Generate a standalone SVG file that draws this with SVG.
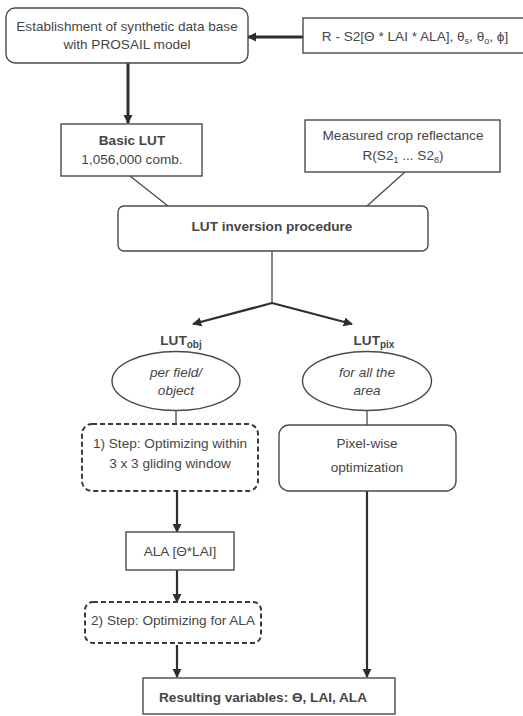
<svg xmlns="http://www.w3.org/2000/svg" width="523" height="716" viewBox="0 0 523 716">
<defs>
<marker id="ah" viewBox="0 0 10 10" refX="9" refY="5" markerWidth="4.2" markerHeight="4.2" markerUnits="strokeWidth" orient="auto">
<path d="M0,0 L10,5 L0,10 z" fill="#2e2e2e"/>
</marker>
<marker id="ahk" viewBox="0 0 10 10" refX="9" refY="5" markerWidth="3.1" markerHeight="3.1" markerUnits="strokeWidth" orient="auto">
<path d="M0,0 L10,5 L0,10 z" fill="#2e2e2e"/>
</marker>
<style>
.box{fill:#fff;stroke:#4a4a4a;stroke-width:1.4}
.dash{fill:#fff;stroke:#3a3a3a;stroke-width:2;stroke-dasharray:5 3}
.t{font-family:"Liberation Sans",Arial,sans-serif;font-size:13.6px;fill:#464646;text-anchor:middle}
.b{font-weight:bold}
.i{font-style:italic}
.thin{fill:none;stroke:#4a4a4a;stroke-width:1.3}
.arr{fill:none;stroke:#2e2e2e;stroke-width:2.2;marker-end:url(#ah)}
.arrk{fill:none;stroke:#2e2e2e;stroke-width:3;marker-end:url(#ahk)}
</style>
</defs>
<rect width="523" height="716" fill="#fff"/>
<g id="connectors">
<line class="arrk" x1="303" y1="37" x2="248" y2="37"/>
<line class="arrk" x1="128" y1="63" x2="128" y2="123"/>
<line class="thin" x1="130" y1="176" x2="168" y2="206"/>
<line class="thin" x1="405" y1="172" x2="367" y2="206"/>
<line class="thin" x1="272" y1="251" x2="272" y2="303"/>
<line class="arr" x1="272" y1="303" x2="193" y2="324"/>
<line class="arr" x1="272" y1="303" x2="352" y2="324"/>
<line class="thin" x1="176" y1="411" x2="176" y2="424"/>
<line class="thin" x1="367" y1="411" x2="367" y2="425"/>
<line class="arr" x1="177" y1="492" x2="177" y2="532"/>
<line class="arr" x1="177" y1="570" x2="177" y2="602"/>
<line class="arr" x1="177" y1="645" x2="177" y2="677"/>
<line class="arr" x1="367" y1="491" x2="367" y2="677"/>
</g>
<g id="establishment">
<rect class="box" x="6" y="8" width="242" height="55" rx="9" stroke-width="1.6"/>
<text class="t" x="127" y="31">Establishment of synthetic data base</text>
<text class="t" x="127" y="49">with PROSAIL model</text>
</g>
<g id="params">
<rect class="box" x="303" y="18" width="225" height="35"/>
<text class="t" x="415" y="41">R - S2[Θ * LAI * ALA], θ<tspan font-size="9" dy="3">s</tspan><tspan dy="-3">, θ</tspan><tspan font-size="9" dy="3">o</tspan><tspan dy="-3">, ϕ]</tspan></text>
</g>
<g id="basic-lut">
<rect class="box" x="61" y="124" width="141" height="52"/>
<text class="t b" x="132" y="145">Basic LUT</text>
<text class="t" x="132" y="164">1,056,000 comb.</text>
</g>
<g id="measured">
<rect class="box" x="305" y="120" width="195" height="52"/>
<text class="t" x="403" y="140">Measured crop reflectance</text>
<text class="t" x="403" y="160">R(S2<tspan font-size="9" dy="3">1</tspan><tspan dy="-3"> ... S2</tspan><tspan font-size="9" dy="3">8</tspan><tspan dy="-3">)</tspan></text>
</g>
<g id="lut-inversion">
<rect class="box" x="118" y="206" width="310" height="45" rx="6"/>
<text class="t b" x="272" y="231" font-size="14.5">LUT inversion procedure</text>
</g>
<g id="lut-obj">
<text class="t b" x="181" y="345" font-size="15">LUT<tspan font-size="10" dy="3">obj</tspan></text>
<ellipse class="box" cx="176" cy="381" rx="64" ry="29.5"/>
<text class="t i" x="176" y="377">per field/</text>
<text class="t i" x="176" y="395">object</text>
</g>
<g id="lut-pix">
<text class="t b" x="374" y="345" font-size="15">LUT<tspan font-size="10" dy="3">pix</tspan></text>
<ellipse class="box" cx="367" cy="381" rx="64.5" ry="29.5"/>
<text class="t i" x="367" y="377">for all the</text>
<text class="t i" x="367" y="395">area</text>
</g>
<g id="step1">
<rect class="dash" x="82" y="424" width="176" height="67" rx="10"/>
<text class="t" x="170" y="448" font-size="14">1) Step: Optimizing within</text>
<text class="t" x="170" y="468" font-size="14">3 x 3 gliding window</text>
</g>
<g id="pixel-wise">
<rect class="box" x="279" y="425" width="177" height="66" rx="10"/>
<text class="t" x="367" y="448" font-size="15.5">Pixel-wise</text>
<text class="t" x="367" y="472" font-size="15.5">optimization</text>
</g>
<g id="ala">
<rect class="box" x="126" y="532" width="108" height="38"/>
<text class="t" x="180" y="556" font-size="14">ALA [Θ*LAI]</text>
</g>
<g id="step2">
<rect class="dash" x="85" y="602" width="176" height="41" rx="8"/>
<text class="t" x="173" y="625" font-size="14">2) Step: Optimizing for ALA</text>
</g>
<g id="result">
<rect class="box" x="143" y="678" width="252" height="36" stroke-width="1.8"/>
<text class="t b" x="263" y="702" font-size="14.5">Resulting variables:  ϴ, LAI, ALA</text>
</g>
</svg>
